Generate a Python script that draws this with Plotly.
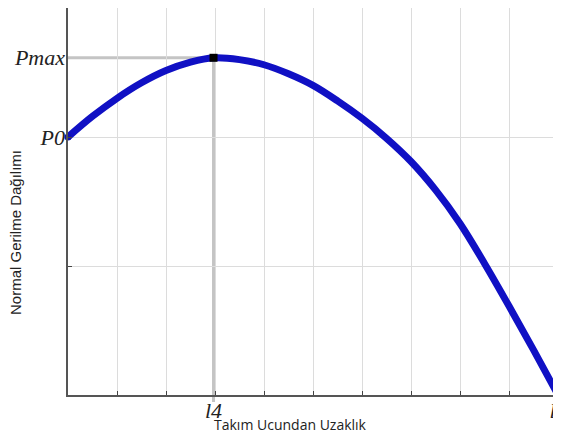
import plotly.graph_objects as go

# Data (x in grid units 0..10, y in grid units 0..3)
x_vals = [0, 0.5, 1, 1.5, 2, 2.5, 2.97, 3.5, 4, 4.5, 5, 5.5, 6, 6.5, 7, 7.5, 8, 8.5, 9, 9.5, 10]
y_vals = [2.00, 2.16, 2.30, 2.42, 2.515, 2.58, 2.614, 2.60, 2.56, 2.49, 2.40, 2.28, 2.145, 1.99,
          1.81, 1.59, 1.33, 1.02, 0.69, 0.35, 0.0]

L4 = 2.97
PMAX = 2.614
P0 = 2.0
X_MAX = 10
Y_MAX = 3

x_grid = list(range(0, 11))
y_grid = [0, 1, 2, 3]
x_tick_vals = [L4, X_MAX]
x_tick_text = ["<i>l4</i>", "<i>l0</i>"]
y_tick_vals = [P0, PMAX]
y_tick_text = ["<i>P0</i>", "<i>Pmax</i>"]

x_title = "Takım Ucundan Uzaklık"
y_title = "Normal Gerilme Dağılımı"

fig = go.Figure()

# reference gray lines to the peak
fig.add_shape(type="line", xref="x", yref="y", x0=0, x1=L4, y0=PMAX, y1=PMAX,
              line=dict(color="#c4c4c4", width=3), layer="below")
fig.add_shape(type="line", xref="x", yref="paper", x0=L4, x1=L4, y0=-0.018, y1=(PMAX / Y_MAX),
              line=dict(color="#c4c4c4", width=3), layer="below")

fig.add_trace(go.Scatter(x=x_vals, y=y_vals, mode="lines",
                         line=dict(color="#1010c4", width=7, shape="spline", smoothing=1.0),
                         showlegend=False, hoverinfo="skip"))
fig.add_trace(go.Scatter(x=[0], y=[P0], mode="markers", marker=dict(color="#1010b0", size=7),
                         showlegend=False, cliponaxis=False))
fig.add_trace(go.Scatter(x=[L4], y=[PMAX], mode="markers",
                         marker=dict(color="black", size=8, symbol="square"),
                         showlegend=False))
# invisible trace on secondary axes for labels
fig.add_trace(go.Scatter(x=[0], y=[0], xaxis="x2", yaxis="y2", mode="markers",
                         marker=dict(opacity=0), showlegend=False, hoverinfo="skip"))

tick_font = dict(family="Liberation Serif", size=22, color="#222")

# page body has an 8px margin, so the figure is sized to fit the 561x441 window
fig.update_layout(
    width=553, height=433,
    margin=dict(l=60, r=3, t=0, b=46, autoexpand=False),
    paper_bgcolor="white", plot_bgcolor="white",
    xaxis=dict(range=[0, X_MAX], tickvals=x_grid, showticklabels=False, showgrid=True,
               gridcolor="#dcdcdc", gridwidth=1, zeroline=False, showline=True,
               linecolor="#555", linewidth=1.5, ticks="inside", ticklen=4, tickcolor="#444",
               automargin=False),
    yaxis=dict(range=[0, Y_MAX], tickvals=y_grid, showticklabels=False, showgrid=True,
               gridcolor="#dcdcdc", gridwidth=1, zeroline=False, showline=True,
               linecolor="#555", linewidth=1.5, ticks="inside", ticklen=4, tickcolor="#444",
               automargin=False),
    xaxis2=dict(range=[0, X_MAX], overlaying="x", anchor="y", side="bottom",
                tickvals=x_tick_vals, ticktext=x_tick_text, showgrid=False, zeroline=False,
                showline=False, ticks="", tickfont=tick_font, ticklabelstandoff=0,
                automargin=False, ticklabeloverflow="allow"),
    yaxis2=dict(range=[0, Y_MAX], overlaying="y", anchor="x", side="left",
                tickvals=y_tick_vals, ticktext=y_tick_text, showgrid=False, zeroline=False,
                showline=False, ticks="", tickfont=tick_font, ticklabelstandoff=2,
                automargin=False, ticklabeloverflow="allow"),
    annotations=[
        dict(text=x_title, xref="paper", yref="paper", x=(290 - 68) / 490, y=(395 - 425) / 387,
             xanchor="center", yanchor="middle", showarrow=False,
             font=dict(family="Open Sans", size=14, color="#222")),
        dict(text=y_title, xref="paper", yref="paper", x=(16 - 68) / 490, y=(395 - 233) / 387,
             xanchor="center", yanchor="middle", showarrow=False, textangle=-90,
             font=dict(family="Liberation Sans", size=15, color="#222")),
    ],
)

fig.write_html("out.html")
